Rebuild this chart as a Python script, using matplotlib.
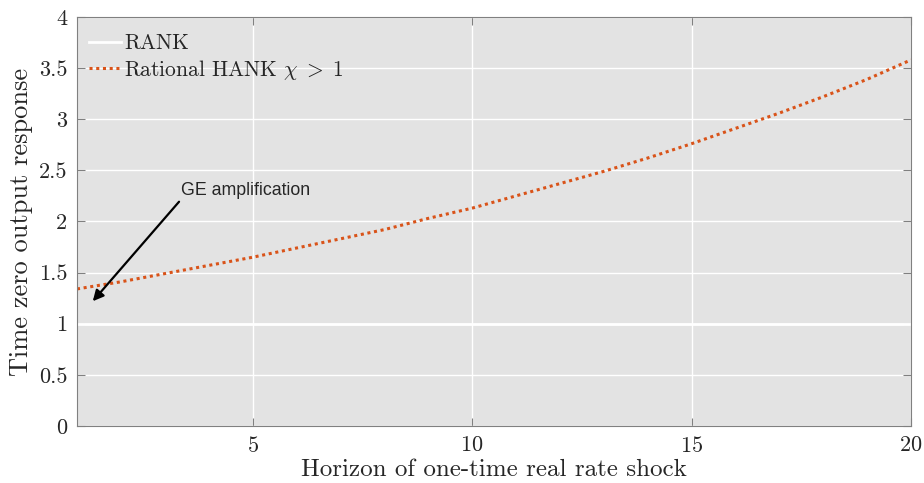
import numpy as np
import matplotlib
matplotlib.use("Agg")
import matplotlib.pyplot as plt

plt.rcParams["font.family"] = "serif"
plt.rcParams["font.serif"] = ["cmr10"]
plt.rcParams["mathtext.fontset"] = "cm"
plt.rcParams["axes.formatter.use_mathtext"] = True

horizon = np.arange(1, 21)
rank = [1.0] * 20
hank = [1.34, 1.41, 1.49, 1.57, 1.65, 1.74, 1.83, 1.92, 2.03, 2.13,
        2.25, 2.37, 2.49, 2.62, 2.76, 2.91, 3.06, 3.22, 3.39, 3.58]

fig = plt.figure(figsize=(9.24, 4.83), dpi=100)
ax = fig.add_axes([0.0833, 0.118, 0.9027, 0.847])
ax.set_facecolor("#e3e3e3")

ax.plot(horizon, rank, color="white", lw=2, label="RANK")
ax.plot(horizon, hank, color="#d95319", lw=2.2, ls=(0, (1, 1.2)),
        label=r"Rational HANK $\chi \;>\; 1$")

ax.set_xlim(1, 20)
ax.set_ylim(0, 4)
ax.set_xticks([5, 10, 15, 20])
ax.set_yticks(np.arange(0, 4.01, 0.5))
ax.set_yticklabels(["0", "0.5", "1", "1.5", "2", "2.5", "3", "3.5", "4"])
ax.grid(True, color="white", lw=1)
ax.set_axisbelow(True)
ax.tick_params(direction="in", top=True, right=True, length=6,
               color="#808080", labelsize=16, labelcolor="#262626", pad=7)
for s in ax.spines.values():
    s.set_color("#808080")

ax.set_xlabel("Horizon of one-time real rate shock", fontsize=18,
              color="#262626", labelpad=2)
ax.set_ylabel("Time zero output response", fontsize=19, color="#262626",
              labelpad=4)

ax.annotate("GE amplification", xy=(1.36, 1.22), xytext=(3.38, 2.22),
            fontsize=12.8, family="Liberation Sans", color="#262626",
            ha="left", va="bottom",
            arrowprops=dict(arrowstyle="-|>", color="k", lw=1.6,
                            mutation_scale=16, shrinkA=0, shrinkB=0,
                            relpos=(0, 0)))

leg = ax.legend(loc="upper left", bbox_to_anchor=(0, 0.988), frameon=False,
                fontsize=15.5, handlelength=1.5, handletextpad=0.15,
                borderaxespad=0.15, labelspacing=0.22)
for t in leg.get_texts():
    t.set_color("#262626")

fig.savefig("out.png", dpi=100)
